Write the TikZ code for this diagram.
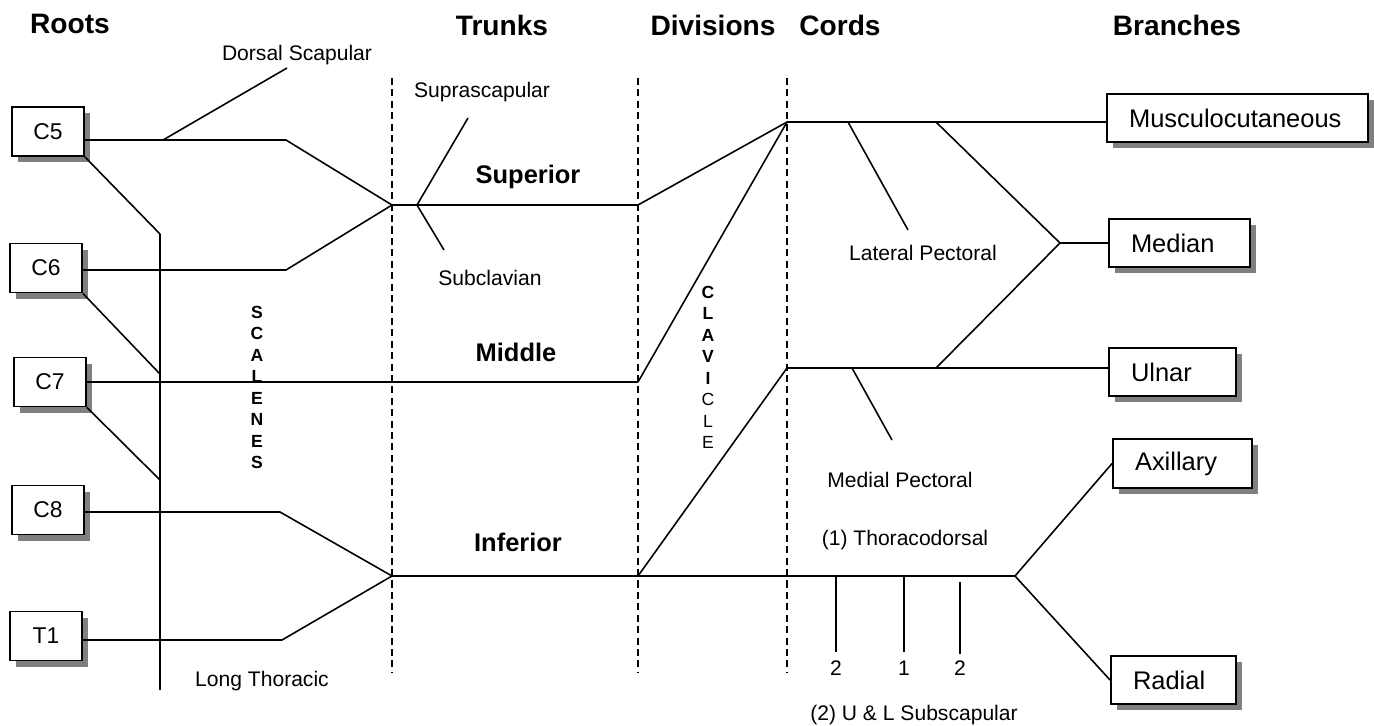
\documentclass[tikz,border=0pt]{standalone}
\usepackage{fontspec}
\setmainfont{Liberation Sans}
\usetikzlibrary{shadows}

\begin{document}
\begin{tikzpicture}[x=0.02cm,y=-0.02cm,
    nerve/.style={line width=0.9pt},
    bound/.style={line width=0.8pt,dash pattern=on 4pt off 2.5pt},
    boxbase/.style={draw,line width=1.1pt,fill=white,inner sep=0pt,
      drop shadow={shadow xshift=0.12cm,shadow yshift=-0.12cm,fill=black!50,opacity=1}},
    rootbox/.style={boxbase,minimum width=1.44cm,minimum height=0.98cm,
      font=\fontsize{13}{15}\selectfont},
    branchbox/.style={boxbase,minimum height=0.97cm,inner xsep=0.44cm,
      text width=#1,align=left,font=\fontsize{14.5}{17}\selectfont},
    head/.style={font=\fontsize{16}{19}\selectfont\bfseries},
    trunk/.style={font=\fontsize{14.5}{17}\selectfont\bfseries},
    lbl/.style={font=\fontsize{12}{14}\selectfont,inner sep=1pt}]
  \useasboundingbox (0,0) rectangle (1374,725);

  % headings
  \node[head] (hroots) at (70,24) {Roots};
  \node[head] (htrunks) at (502,25) {Trunks};
  \node[head] (hdiv) at (713,25) {Divisions};
  \node[head] (hcords) at (840,25) {Cords};
  \node[head] (hbranch) at (1177,25) {Branches};

  % column boundaries
  \foreach \bx in {392,638,787}
    \draw[bound] (\bx,78) -- (\bx,673);

  % roots
  \node[rootbox] (c5) at (48,131.5) {C5};
  \node[rootbox] (c6) at (46,268)   {C6};
  \node[rootbox] (c7) at (50,382)   {C7};
  \node[rootbox] (c8) at (48,510)   {C8};
  \node[rootbox] (t1) at (46,636)   {T1};

  % branches
  \node[branchbox=4.34cm] (musc) at (1237.5,118) {Musculocutaneous};
  \node[branchbox=1.94cm] (median) at (1179.5,243) {Median};
  \node[branchbox=1.66cm] (ulnar) at (1172.5,372) {Ulnar};
  \node[branchbox=1.90cm] (axil) at (1182.5,463.5) {Axillary};
  \node[branchbox=1.62cm] (radial) at (1173.5,680) {Radial};

  % junction points
  \coordinate (sup) at (392,205);
  \coordinate (inf) at (392,576);
  \coordinate (c5k) at (286,140);
  \coordinate (c6k) at (286,270);
  \coordinate (c8k) at (280,512);
  \coordinate (t1k) at (282,640);
  \coordinate (supd) at (638,205);
  \coordinate (midd) at (638,382);
  \coordinate (infd) at (638,576);
  \coordinate (latc) at (787,122);
  \coordinate (medc) at (787,368);
  \coordinate (latb) at (936,122);
  \coordinate (medb) at (936,368);
  \coordinate (medf) at (1060,243);
  \coordinate (postf) at (1015,576);

  % long thoracic
  \coordinate (lt1) at (160,234);
  \coordinate (lt2) at (160,374);
  \coordinate (lt3) at (160,480);
  \coordinate (lt4) at (160,690);
  \draw[nerve] (lt1) -- (lt4);
  \draw[nerve] (c5.south east) -- (lt1);
  \draw[nerve] (c6.south east) -- (lt2);
  \draw[nerve] (c7.south east) -- (lt3);

  % roots to trunks
  \draw[nerve] (c5.east |- c5k) -- (c5k) -- (sup);
  \draw[nerve] (c6.east |- c6k) -- (c6k) -- (sup);
  \draw[nerve] (c7.east) -- (midd);
  \draw[nerve] (c8.east |- c8k) -- (c8k) -- (inf);
  \draw[nerve] (t1.east |- t1k) -- (t1k) -- (inf);

  % trunks and divisions
  \draw[nerve] (sup) -- (supd) -- (latc);
  \draw[nerve] (midd) -- (latc);
  \draw[nerve] (infd) -- (medc);
  \draw[nerve] (inf) -- (postf);

  % cords
  \draw[nerve] (latc) -- (musc.west |- latc);
  \draw[nerve] (medc) -- (ulnar.west |- medc);
  \draw[nerve] (latb) -- (medf) -- (medb);
  \draw[nerve] (medf) -- (median.west);
  \path[nerve] (postf) edge (axil.west)
               (postf) edge (radial.west);

  % small branches
  \coordinate (ds1) at (163,140);
  \coordinate (ds2) at (287,68);
  \coordinate (ss1) at (417,205);
  \coordinate (ss2) at (468,118);
  \coordinate (sc2) at (444,250);
  \coordinate (lp1) at (848,122);
  \coordinate (lp2) at (908,230);
  \coordinate (mp1) at (852,368);
  \coordinate (mp2) at (892,440);
  \path[nerve] (ds1) edge (ds2)
               (ss1) edge (ss2)
               (ss1) edge (sc2)
               (lp1) edge (lp2)
               (mp1) edge (mp2);
  \coordinate (sb1) at (836,576);
  \coordinate (sb2) at (904,576);
  \coordinate (sb3) at (960,582);
  \draw[nerve] (sb1) -- ++(0,76);
  \draw[nerve] (sb2) -- ++(0,76);
  \draw[nerve] (sb3) -- ++(0,72);

  % labels
  \node[lbl] (ldorsal) at (297,55) {Dorsal Scapular};
  \node[lbl] (lsupra) at (482,92) {Suprascapular};
  \node[lbl] (lsubcl) at (490,278) {Subclavian};
  \node[lbl] (llong) at (262,681) {Long Thoracic};
  \node[lbl] (llatp) at (923,253) {Lateral Pectoral};
  \node[lbl] (lmedp) at (900,480) {Medial Pectoral};
  \node[lbl] (lthor) at (905,540) {(1) Thoracodorsal};
  \node[lbl] (ln1) at (836,668) {2};
  \node[lbl] (ln2) at (904,668) {1};
  \node[lbl] (ln3) at (960,668) {2};
  \node[lbl] (lsubsc) at (914,715) {(2) U \& L Subscapular};

  \node[trunk] (tsup) at (528,177) {Superior};
  \node[trunk] (tmid) at (516,352) {Middle};
  \node[trunk] (tinf) at (518,542) {Inferior};

  % vertical words
  \foreach \ch [count=\i] in {S,C,A,L,E,N,E,S}
    \node[font=\fontsize{10}{12}\selectfont\bfseries,inner sep=0pt] (scal\i) at (257,{312+21.5*(\i-1)}) {\ch};
  \foreach \ch [count=\i] in {C,L,A,V,I}
    \node[font=\fontsize{10}{12}\selectfont\bfseries,inner sep=0pt] (clav\i) at (708,{292+21.5*(\i-1)}) {\ch};
  \foreach \ch [count=\i from 6] in {C,L,E}
    \node[font=\fontsize{10}{12}\selectfont,inner sep=0pt] (clav\i) at (708,{292+21.5*(\i-1)}) {\ch};
\end{tikzpicture}
\end{document}
